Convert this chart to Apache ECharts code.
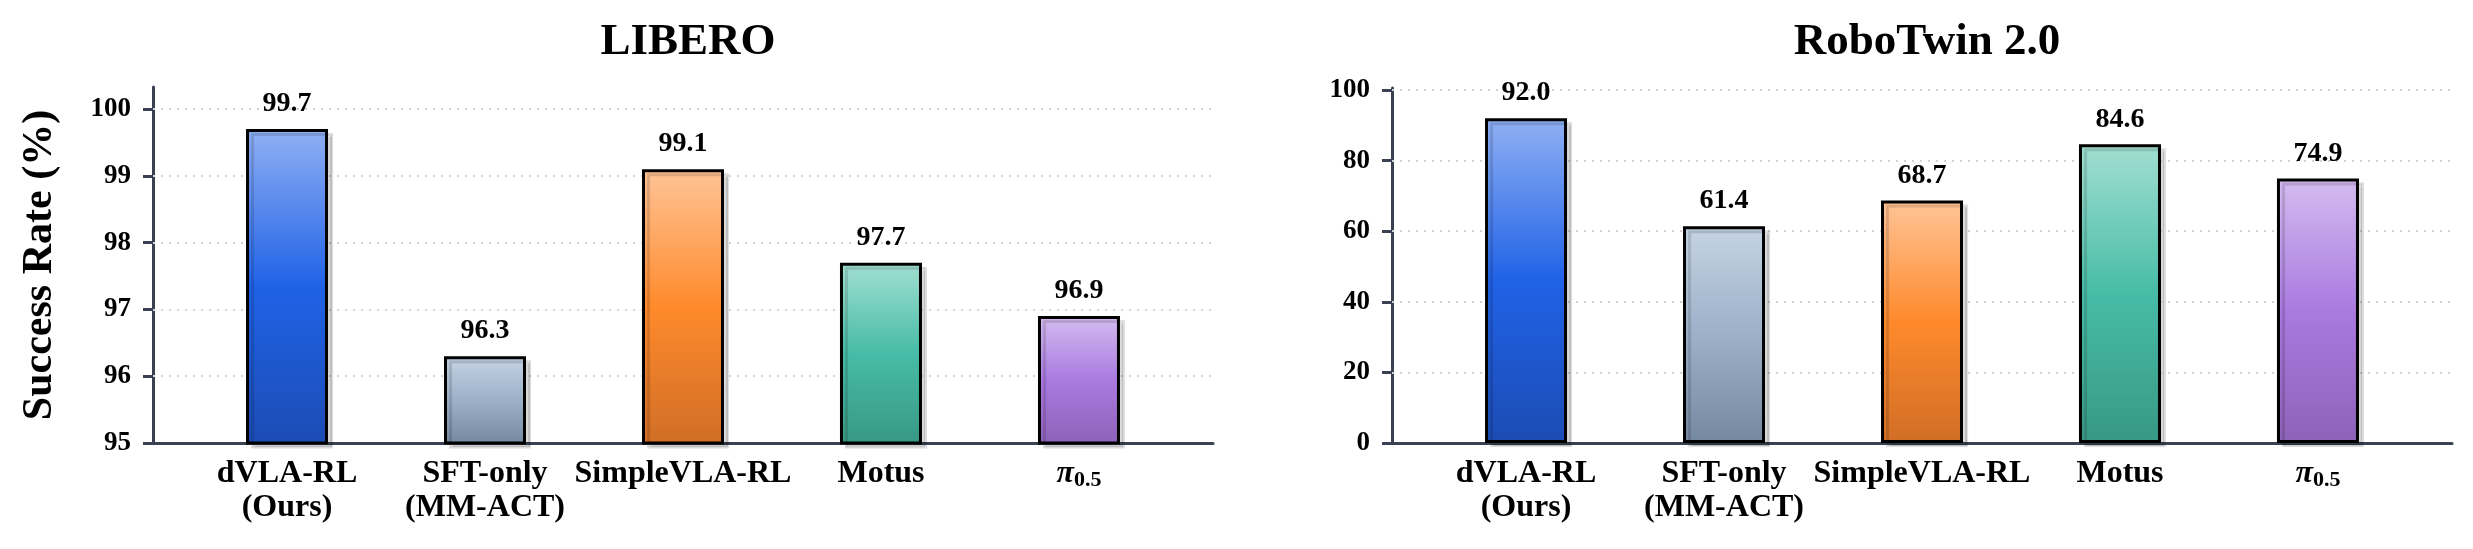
<!DOCTYPE html>
<html>
<head>
<meta charset="utf-8">
<script src="https://cdn.jsdelivr.net/npm/echarts@6/dist/echarts.min.js"></script>
<style>
  html, body { margin: 0; background: #fff; }
  #chart { width: 2473px; height: 549px; }
</style>
</head>
<body>
<div id="chart"></div>
<script>
// data
const categories = ['dVLA-RL\n(Ours)', 'SFT-only\n(MM-ACT)', 'SimpleVLA-RL', 'Motus', 'π0.5'];
const categoryPositions = [0, 1, 2, 3, 4];
const liberoValues = [99.7, 96.3, 99.1, 97.7, 96.9];
const robotwinValues = [92.0, 61.4, 68.7, 84.6, 74.9];
const liberoTicks = [95, 96, 97, 98, 99, 100];
const robotwinTicks = [0, 20, 40, 60, 80, 100];

// top / middle / bottom of each bar gradient
const palette = [
  ['#90b0f4', '#2062e6', '#1c4cb4'],
  ['#c6d4e4', '#9cb0c8', '#74889f'],
  ['#ffc497', '#ff8a2c', '#d06e26'],
  ['#a2dfd2', '#47bca6', '#389884'],
  ['#d5bcf0', '#a97ae0', '#8d62b8']
];

const serif = "'Liberation Serif', 'Times New Roman', serif";
const axisColor = '#3a4152';

const chart = echarts.init(document.getElementById('chart'));

function gradient(c) {
  return new echarts.graphic.LinearGradient(0, 0, 0, 1, [
    { offset: 0, color: c[0] },
    { offset: 0.5, color: c[1] },
    { offset: 1, color: c[2] }
  ]);
}

// π0.5 -> italic pi with subscript
function labelText(name) {
  const m = /^π(.+)$/.exec(name);
  return m ? '{pi|π}{sub|' + m[1] + '}' : name;
}

function xAxisFor(gridIndex) {
  return {
    type: 'value',
    gridIndex: gridIndex,
    min: -0.677,
    max: 4.677,
    axisLine: { show: true, onZero: false, lineStyle: { color: axisColor, width: 3 } },
    axisTick: { show: false },
    splitLine: { show: false },
    axisLabel: {
      customValues: categoryPositions,
      formatter: v => labelText(categories[Math.round(v)]),
      fontFamily: serif,
      fontWeight: 'bold',
      fontSize: 32,
      lineHeight: 34,
      color: '#000',
      margin: 14,
      rich: {
        pi: { fontFamily: serif, fontWeight: 'bold', fontStyle: 'italic', fontSize: 32, lineHeight: 34, color: '#000' },
        sub: { fontFamily: serif, fontWeight: 'bold', fontSize: 22, lineHeight: 22, padding: [12, 0, 0, 0], color: '#000' }
      }
    }
  };
}

function yAxisFor(gridIndex, ticks, max, name) {
  return {
    type: 'value',
    gridIndex: gridIndex,
    min: ticks[0],
    max: max,
    name: name,
    nameLocation: 'middle',
    nameGap: 92,
    nameTextStyle: { fontFamily: serif, fontWeight: 'bold', fontSize: 42, color: '#000' },
    axisLine: { show: true, onZero: false, lineStyle: { color: axisColor, width: 3 } },
    axisTick: { show: true, length: 10, customValues: ticks, lineStyle: { color: axisColor, width: 3 } },
    axisLabel: {
      customValues: ticks,
      margin: 22,
      fontFamily: serif,
      fontWeight: 'bold',
      fontSize: 27,
      color: '#000'
    },
    splitLine: { show: false }
  };
}

function barSeries(idx, values, ticks) {
  return {
    type: 'bar',
    xAxisIndex: idx,
    yAxisIndex: idx,
    barWidth: 82,
    z: 3,
    data: values.map((v, i) => ({
      value: [categoryPositions[i], v],
      itemStyle: { color: gradient(palette[i]) }
    })),
    itemStyle: {
      borderColor: '#000',
      borderWidth: 3,
      shadowColor: 'rgba(0,0,0,0.14)',
      shadowOffsetX: 5,
      shadowOffsetY: 4,
      shadowBlur: 1
    },
    label: {
      show: true,
      position: 'top',
      distance: 11,
      formatter: p => p.value[1].toFixed(1),
      fontFamily: serif,
      fontWeight: 'bold',
      fontSize: 28,
      color: '#000'
    },
    markLine: {
      silent: true,
      z: 1,
      symbol: 'none',
      label: { show: false },
      lineStyle: { color: '#d2d2d2', type: [2, 6], width: 2 },
      data: ticks.slice(1).map(t => ({ yAxis: t }))
    }
  };
}

const option = {
  backgroundColor: '#fff',
  animation: false,
  title: [
    { text: 'LIBERO', left: 683, top: 15, textAlign: 'center',
      textStyle: { fontFamily: serif, fontWeight: 'bold', fontSize: 45, color: '#000' } },
    { text: 'RoboTwin 2.0', left: 1922, top: 15, textAlign: 'center',
      textStyle: { fontFamily: serif, fontWeight: 'bold', fontSize: 45, color: '#000' } }
  ],
  grid: [
    { left: 153, top: 87, width: 1060, height: 356 },
    { left: 1392, top: 88, width: 1060, height: 355 }
  ],
  xAxis: [xAxisFor(0), xAxisFor(1)],
  yAxis: [
    yAxisFor(0, liberoTicks, 100.33, 'Success Rate (%)'),
    yAxisFor(1, robotwinTicks, 100.57, '')
  ],
  series: [
    barSeries(0, liberoValues, liberoTicks),
    barSeries(1, robotwinValues, robotwinTicks)
  ]
};

chart.setOption(option);
</script>
</body>
</html>
